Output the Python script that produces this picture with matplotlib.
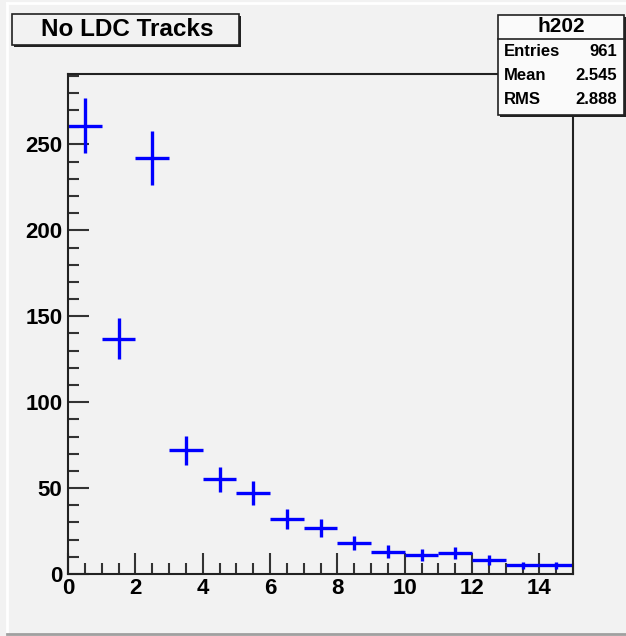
import matplotlib
matplotlib.use("Agg")
import matplotlib.pyplot as plt
import numpy as np
from matplotlib.patches import Rectangle
from matplotlib.ticker import MultipleLocator

bin_centers = [0.5, 1.5, 2.5, 3.5, 4.5, 5.5, 6.5, 7.5, 8.5, 9.5, 10.5, 11.5, 12.5, 13.5, 14.5]
counts = [261, 137, 242, 72, 55, 47, 32, 27, 18, 13, 11, 12, 8, 5, 5]
title = "No LDC Tracks"
stats_name = "h202"
stats_labels = ["Entries", "Mean", "RMS"]
stats_values = ["961", "2.545", "2.888"]

plt.rcParams['font.family'] = ['Liberation Sans', 'DejaVu Sans']
plt.rcParams['font.weight'] = 'bold'

bg = '#f2f2f2'
fig = plt.figure(figsize=(6.26, 6.36), dpi=100, facecolor=bg)

# pad border
fig.add_artist(plt.Line2D([7/626, 7/626], [2/636, 1-3/636], transform=fig.transFigure, color='white', lw=2))
fig.add_artist(plt.Line2D([7/626, 1], [1-3/636, 1-3/636], transform=fig.transFigure, color='white', lw=2))
fig.add_artist(plt.Line2D([7/626, 1], [2/636, 2/636], transform=fig.transFigure, color='#a0a0a0', lw=2))

ax = fig.add_axes([68/626, 1-574/636, (573-68)/626, (574-74)/636])
ax.set_facecolor(bg)
err = np.sqrt(counts)
ax.errorbar(bin_centers, counts, xerr=0.5, yerr=err, fmt='none', ecolor='#0000ff', elinewidth=2.4, capsize=0)
ax.set_xlim(0, 15)
ax.set_ylim(0, 291)
ax.xaxis.set_major_locator(MultipleLocator(2))
ax.xaxis.set_minor_locator(MultipleLocator(0.5))
ax.yaxis.set_major_locator(MultipleLocator(50))
ax.yaxis.set_minor_locator(MultipleLocator(10))
ax.tick_params(which='both', direction='in', top=False, right=False, color='#333333', width=1.5)
ax.tick_params(which='major', length=15, labelsize=16)
ax.tick_params(axis='y', which='major', pad=4)
ax.tick_params(axis='x', which='major', length=15, pad=3)
ax.tick_params(which='minor', length=8)
for lab in ax.get_xticklabels() + ax.get_yticklabels():
    lab.set_fontweight('bold')
for s in ax.spines.values():
    s.set_linewidth(1.5)
    s.set_color('#222222')

# title box with shadow
fig.add_artist(Rectangle((14/626, 1-47/636), 227/626, 31/636, transform=fig.transFigure,
                         facecolor='#222222', edgecolor='none'))
fig.add_artist(Rectangle((12/626, 1-45/636), 227/626, 31/636, transform=fig.transFigure,
                         facecolor=bg, edgecolor='#222222', lw=1.2))
fig.text(127/626, 1-29.5/636, title, ha='center', va='center', fontsize=17.5, fontweight='bold')

# stats box
x0, x1 = 498/626, 624/626
y_top, y_bot = 1-15/636, 1-115/636
fig.add_artist(Rectangle((x0+2/626, y_bot-2/636), x1-x0, y_top-y_bot, transform=fig.transFigure,
                         facecolor='#222222', edgecolor='none'))
fig.add_artist(Rectangle((x0, y_bot), x1-x0, y_top-y_bot, transform=fig.transFigure,
                         facecolor='#fafafa', edgecolor='#222222', lw=1.2))
fig.add_artist(plt.Line2D([x0, x1], [1-39/636, 1-39/636], transform=fig.transFigure, color='#222222', lw=1.2))
fig.text((x0+x1)/2, 1-27/636, stats_name, ha='center', va='center', fontsize=15, fontweight='bold')
for i, (lab, val) in enumerate(zip(stats_labels, stats_values)):
    y = 1-(51+i*24.5)/636
    fig.text(504/626, y, lab, ha='left', va='center', fontsize=12, fontweight='bold')
    fig.text(617/626, y, val, ha='right', va='center', fontsize=12, fontweight='bold')

fig.savefig('out.png', dpi=100, facecolor=bg)
